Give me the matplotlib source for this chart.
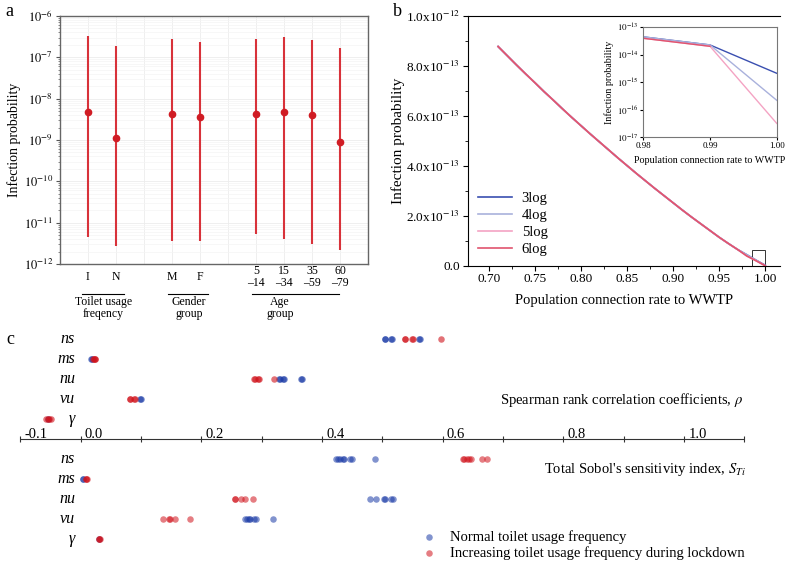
import numpy as np
import matplotlib
matplotlib.use("Agg")
import matplotlib.pyplot as plt
from matplotlib.ticker import FuncFormatter, FixedLocator, NullFormatter, AutoMinorLocator
from matplotlib.patches import Rectangle
import matplotlib.transforms as mtrans

plt.rcParams['font.family'] = ['Liberation Serif', 'DejaVu Serif']
plt.rcParams['mathtext.fontset'] = 'stix'

# ---------------- panel a data ----------------
cat_labels = ["I", "N", "M", "F", "5\n\u201314", "15\n\u201334", "35\n\u201359", "60\n\u201379"]
cat_pos = [1, 2, 4, 5, 7, 8, 9, 10]
a_mid = [4.8e-9, 1.1e-9, 4.3e-9, 3.7e-9, 4.3e-9, 4.8e-9, 4.0e-9, 9.1e-10]
a_hi = [3.2e-7, 1.9e-7, 2.7e-7, 2.3e-7, 2.7e-7, 3.05e-7, 2.6e-7, 1.65e-7]
a_lo = [4.4e-12, 2.7e-12, 3.7e-12, 3.7e-12, 5.3e-12, 4.0e-12, 3.1e-12, 2.2e-12]
groups = ["Toilet usage\nfreqency", "Gender\ngroup", "Age\ngroup"]
a_decades = [1e-12, 1e-11, 1e-10, 1e-9, 1e-8, 1e-7, 1e-6]

# ---------------- panel b data ----------------
rate = [0.71, 0.72, 0.73, 0.74, 0.75, 0.76, 0.77, 0.78, 0.79, 0.80,
        0.81, 0.82, 0.83, 0.84, 0.85, 0.86, 0.87, 0.88, 0.89, 0.90,
        0.91, 0.92, 0.93, 0.94, 0.95, 0.96, 0.97, 0.98, 0.99, 1.00]
# shared part 0.71-0.97 (x1e-13)
p_common = [8.78, 8.41, 8.04, 7.68, 7.33, 6.97, 6.63, 6.28, 5.94, 5.61,
            5.28, 4.96, 4.64, 4.32, 4.01, 3.70, 3.40, 3.10, 2.81, 2.52,
            2.23, 1.95, 1.68, 1.41, 1.14, 0.89, 0.65]
# last three points 0.98, 0.99, 1.00 for each treatment level
tail_3log = [4.4e-14, 2.24e-14, 2.1e-15]
tail_4log = [4.4e-14, 2.24e-14, 2.2e-16]
tail_5log = [3.9e-14, 2.0e-14, 3.2e-17]
tail_6log = [3.9e-14, 2.0e-14, 0.0]
log_labels = ["3log", "4log", "5log", "6log"]
log_colors = ["#3a4fb0", "#a9b1dc", "#f4a3c3", "#e0546e"]
inset_decades = [1e-17, 1e-16, 1e-15, 1e-14, 1e-13]

# ---------------- panel c data ----------------
params = ["ns", "ms", "nu", "vu", "\u03b3"]
sp_blue = [[0.504, 0.505, 0.515, 0.516, 0.561, 0.562],
           [0.017, 0.018],
           [0.329, 0.330, 0.336, 0.337, 0.365, 0.366],
           [0.099, 0.100],
           [-0.054]]
sp_red = [[0.537, 0.538, 0.549, 0.550, 0.598],
          [0.021, 0.022, 0.023, 0.024],
          [0.288, 0.289, 0.294, 0.295, 0.320],
          [0.081, 0.082, 0.089, 0.090],
          [-0.058, -0.055, -0.052, -0.049]]
so_blue = [[0.423, 0.426, 0.430, 0.434, 0.437, 0.447, 0.450, 0.488],
           [0.003, 0.004],
           [0.480, 0.490, 0.503, 0.505, 0.515, 0.517],
           [0.273, 0.275, 0.279, 0.281, 0.288, 0.290, 0.318],
           [0.031]]
so_red = [[0.633, 0.636, 0.640, 0.644, 0.647, 0.665, 0.674],
          [0.008, 0.009, 0.010],
          [0.255, 0.256, 0.265, 0.272, 0.286],
          [0.137, 0.146, 0.148, 0.156, 0.181],
          [0.030, 0.031, 0.032]]
c_ticks = np.round(np.arange(-0.1, 1.11, 0.1), 1)
c_labelled = [-0.1, 0.0, 0.2, 0.4, 0.6, 0.8, 1.0]
c_ticklabels = ["-0.1", "0.0", "0.2", "0.4", "0.6", "0.8", "1.0"]

blue = "#1a3aa6"
red = "#d0121b"

fig = plt.figure(figsize=(7.9, 5.63), dpi=100)


def pow10(v, p):
    return r"$10^{%d}$" % round(np.log10(v))


# ================= panel a =================
ax = fig.add_axes([0.0759, 0.5311, 0.3899, 0.4405])
ax.set_yscale('log')
ax.set_ylim(1e-12, 1e-6)
ax.set_xlim(0, 11)
err_lo = np.array(a_mid) - np.array(a_lo)
err_hi = np.array(a_hi) - np.array(a_mid)
ax.errorbar(cat_pos, a_mid, yerr=[err_lo, err_hi], fmt='o', color='#d01c24',
            ecolor='#d8323a', elinewidth=1.5, ms=4.5, capsize=0, zorder=3)
ax.yaxis.set_major_locator(FixedLocator(a_decades))
minor_a = [m * d for d in a_decades[:-1] for m in range(2, 10)]
ax.yaxis.set_minor_locator(FixedLocator(minor_a))
ax.yaxis.set_minor_formatter(NullFormatter())
ax.yaxis.set_major_formatter(FuncFormatter(pow10))
ax.tick_params(axis='y', labelsize=9, direction='out', length=3, pad=2, color='#555555')
ax.tick_params(axis='y', which='minor', length=1.5, color='#777777')
ax.set_xticks(cat_pos)
ax.set_xticklabels([])
ax.tick_params(axis='x', length=0)
ax.set_xticks([3, 6, 9], minor=True)
ax.tick_params(axis='x', which='minor', length=0)
ax.grid(True, which='major', color='#ececec', lw=0.6)
ax.grid(True, which='minor', axis='x', color='#ececec', lw=0.6)
ax.grid(True, which='minor', axis='y', color='#f4f4f4', lw=0.5)
ax.set_axisbelow(True)
for s in ax.spines.values():
    s.set_color('#666666')
    s.set_linewidth(1.0)
ax.set_ylabel("Infection probability", fontsize=10, labelpad=2)

trans = mtrans.blended_transform_factory(ax.transData, ax.transAxes)
for xp, lab in zip(cat_pos, cat_labels):
    ax.text(xp, -0.052, lab, transform=trans, ha='center', va='center',
            fontsize=8.5, linespacing=1.0)
group_spans = [(0.8, 2.3), (3.85, 5.3), (6.85, 9.95)]
group_text_x = [1.55, 4.6, 7.85]
for (g0, g1), gx, g in zip(group_spans, group_text_x, groups):
    ax.plot([g0, g1], [-0.121, -0.121], color='black', lw=0.8,
            transform=trans, clip_on=False)
    ax.text(gx, -0.178, g, transform=trans, ha='center', va='center',
            fontsize=8.5, linespacing=1.05)

# ================= panel b =================
bx = fig.add_axes([0.592, 0.528, 0.3953, 0.4435])
series = []
for tail in [tail_3log, tail_4log, tail_5log, tail_6log]:
    series.append([v * 1e-13 for v in p_common] + tail)
for vals, lab, col in zip(series, log_labels, log_colors):
    bx.plot(rate, vals, color=col, lw=1.2, label=lab)
bx.set_xlim(0.677, 1.016)
bx.set_ylim(0, 1e-12)
bx.set_xticks([0.70, 0.75, 0.80, 0.85, 0.90, 0.95, 1.00])
bx.set_yticks(np.arange(0, 1.01e-12, 2e-13))


def sci_fmt(v, p):
    if v == 0:
        return "0.0"
    e = int(np.floor(np.log10(v) + 1e-9))
    m = v / 10 ** e
    return r"%.1fx10$^{%d}$" % (m, e)


bx.yaxis.set_major_formatter(FuncFormatter(sci_fmt))
bx.xaxis.set_major_formatter(FuncFormatter(lambda v, p: "%.2f" % v))
bx.xaxis.set_minor_locator(AutoMinorLocator(2))
bx.yaxis.set_minor_locator(AutoMinorLocator(2))
bx.tick_params(labelsize=9.5, direction='out', length=3.5, pad=2)
bx.tick_params(which='minor', length=2)
bx.spines['right'].set_visible(False)
bx.set_xlabel("Population connection rate to WWTP", fontsize=10.5, labelpad=6)
bx.set_ylabel("Infection probability", fontsize=11, labelpad=1)
bx.add_patch(Rectangle((0.986, 0), 0.014, 0.063e-12, fill=False, ec='#333333', lw=0.7))
bx.legend(loc='upper left', bbox_to_anchor=(0.033, 0.295), frameon=False,
          fontsize=10.5, handlelength=2.3, handletextpad=0.7, labelspacing=0.25,
          borderpad=0, borderaxespad=0)

# inset
ix = fig.add_axes([0.8143, 0.7561, 0.1689, 0.1959])
ix.set_yscale('log', nonpositive='mask')
for vals, col in zip(series, log_colors):
    ix.plot(rate, vals, color=col, lw=1.0)
ix.set_xlim(0.98, 1.00)
ix.set_ylim(1e-17, 1e-13)
ix.set_xticks([0.98, 0.99, 1.00])
ix.xaxis.set_major_formatter(FuncFormatter(lambda v, p: "%.2f" % v))
ix.yaxis.set_major_locator(FixedLocator(inset_decades))
ix.yaxis.set_minor_locator(FixedLocator([]))
ix.yaxis.set_major_formatter(FuncFormatter(pow10))
ix.tick_params(labelsize=6.5, direction='out', length=2, pad=1.5)
for s in ix.spines.values():
    s.set_color('#777777')
    s.set_linewidth(0.8)
ix.set_xlabel("Population connection rate to WWTP", fontsize=7.2, labelpad=4)
ix.set_ylabel("Infection probability", fontsize=7.2, labelpad=2)

# ================= panel c =================
cx = fig.add_axes([0, 0, 1, (563 - 320) / 563])
cx.set_xlim(-0.1338, 1.1757)
cx.set_ylim(11.185, -0.965)
cx.axis('off')
axis_row = 5
sp_rows = [0, 1, 2, 3, 4]
so_rows = [6, 7, 8, 9, 10]
for r, lab, bv, rv in zip(sp_rows, params, sp_blue, sp_red):
    cx.scatter(bv, [r] * len(bv), s=22, color=blue, alpha=0.6, lw=0)
    cx.scatter(rv, [r] * len(rv), s=22, color=red, alpha=0.6, lw=0)
    cx.text(-0.0095, r, lab, ha='right', va='center', fontsize=11.5, style='italic')
for r, lab, bv, rv in zip(so_rows, params, so_blue, so_red):
    cx.scatter(bv, [r] * len(bv), s=22, color=blue, alpha=0.55, lw=0)
    cx.scatter(rv, [r] * len(rv), s=22, color=red, alpha=0.55, lw=0)
    cx.text(-0.0095, r, lab, ha='right', va='center', fontsize=11.5, style='italic')

cx.hlines(axis_row, c_ticks[0], c_ticks[-1], color='#333333', lw=0.8)
cx.plot(c_ticks, [axis_row] * len(c_ticks), ls='none', marker='|', ms=4,
        mew=0.8, color='#333333')
for t, lab in zip(c_labelled, c_ticklabels):
    cx.text(t + 0.007, axis_row - 0.08, lab, ha='left', va='baseline', fontsize=10.5)

cx.text(1.098, 3.05, r"Spearman rank correlation coefficients, $\rho$",
        ha='right', va='center', fontsize=10.5)
cx.text(1.103, 6.5, r"Total Sobol's sensitivity index, $S_{Ti}$",
        ha='right', va='center', fontsize=10.5)

hb = cx.scatter([], [], s=22, color=blue, alpha=0.55, lw=0, label="Normal toilet usage frequency")
hr = cx.scatter([], [], s=22, color=red, alpha=0.55, lw=0,
                label="Increasing toilet usage frequency during lockdown")
fig.legend(handles=[hb, hr], loc='center left', bbox_to_anchor=(422 / 790, 1 - 545 / 563),
           frameon=False, fontsize=10.5, handlelength=1.0, handletextpad=0.9,
           labelspacing=0.2, borderpad=0, borderaxespad=0, scatterpoints=1)

# panel letters
fig.text(5 / 790, 1 - 12 / 563, "a", fontsize=13, va='center', ha='left')
fig.text(393 / 790, 1 - 12 / 563, "b", fontsize=13, va='center', ha='left')
fig.text(6 / 790, 1 - 339 / 563, "c", fontsize=13, va='center', ha='left')

fig.savefig("out.png", dpi=100)
